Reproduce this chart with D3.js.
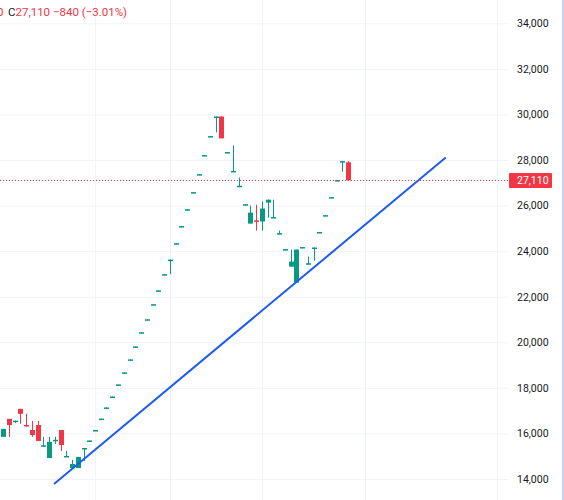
<!DOCTYPE html>
<html>
<head>
<meta charset="utf-8">
<script src="https://cdn.jsdelivr.net/npm/d3@7"></script>
<style>
  body { margin: 0; background: #fff; }
  svg { display: block; font-family: Roboto, "Noto Sans", sans-serif; }
</style>
</head>
<body>
<div class="chart"></div>
<script>
/* global d3 */
// daily candles, oldest first
const opens  = [15850,16640,16530,17080,16370,16150,16370,15440,14920,15700,16150,14980,14480,14480,15320,15650,
  16110,16610,17100,17580,18110,18640,19210,19780,20400,20970,21630,22240,22950,23560,
  24310,25060,25800,26550,27340,28180,29010,29870,29910,28310,27480,26830,26020,25210,25350,25300,26130,25460,24760,
  24050,23320,22620,24140,23440,24110,24800,25540,26330,27080,27890,27900];
const highs  = [16200,16640,16560,17080,16860,16550,16550,15850,15850,15850,16150,15230,14840,14970,15360,15690,
  16150,16650,17140,17620,18150,18680,19250,19820,20440,21010,21670,22280,22990,23630,
  24350,25100,25840,26590,27380,28220,29050,29910,29910,28350,28640,27230,26060,26000,26040,26180,26260,26260,24900,
  24090,24070,24070,24180,23760,24160,24840,25580,26370,27120,27950,27950];
const lows   = [15850,15850,16460,16420,16300,15850,15670,15420,14920,15540,15230,14970,14480,14480,14790,15650,
  16110,16610,17100,17580,18110,18640,19210,19780,20400,20970,21630,22240,22950,22990,
  24310,25060,25800,26550,27340,28180,29010,29210,28950,28310,27480,26830,26020,25210,24900,24900,25470,25440,24760,
  24050,23320,22620,24140,23420,23580,24800,25540,26330,27080,27490,27110];
const closes = [16200,16370,16560,16860,16310,15930,15670,15480,15630,15720,15490,15010,14660,14970,15360,15690,
  16150,16650,17140,17620,18150,18680,19250,19820,20440,21010,21670,22280,22990,23630,
  24350,25100,25840,26590,27380,28220,29050,29910,28950,28350,27520,26870,26060,25690,25320,25870,26260,25500,24790,
  24090,23540,24070,24180,23470,24160,24840,25580,26370,27120,27950,27110];

const yTicks = [14000,16000,18000,20000,22000,24000,26000,28000,30000,32000,34000];
const gridBars = [16, 29, 45, 63];          // bar index of the vertical grid lines
const trendX = [8.87, 77];                   // trend line ends (bar index)
const trendY = [13780, 28110];               // trend line ends (price)
const lastPrice = 27110;
const legendText = ["27,110", "\u2212840", "(\u22123.01%)"];

const up = "#089981", down = "#F23645";
const width = 564, height = 500;
const plotRight = 497;

const svg = d3.select(".chart").append("svg")
    .attr("width", width)
    .attr("height", height);

const x = d3.scaleLinear().domain([0, 60]).range([3, 348]);
const y = d3.scaleLinear().domain([14000, 34000]).range([479, 23.3]);

// vertical grid
svg.append("g").selectAll("line")
    .data(gridBars)
    .enter().append("line")
    .attr("x1", d => Math.round(x(d)) + 0.5).attr("x2", d => Math.round(x(d)) + 0.5)
    .attr("y1", 0).attr("y2", height)
    .attr("stroke", "#f0f3fa");

// horizontal grid via axis
const grid = svg.append("g")
    .attr("transform", "translate(508,0)")
    .call(d3.axisLeft(y).tickValues(yTicks).tickSize(508).tickFormat(""));
grid.select(".domain").remove();
grid.selectAll("line").attr("stroke", "#f0f3fa");

// price axis separator + right frame
svg.append("line").attr("x1", plotRight + 0.5).attr("x2", plotRight + 0.5)
    .attr("y1", 0).attr("y2", height).attr("stroke", "#f0f3fa");
svg.append("line").attr("x1", 563).attr("x2", 563)
    .attr("y1", 0).attr("y2", height).attr("stroke", "#c3cdfb").attr("stroke-width", 2);

// price labels
const axis = svg.append("g")
    .attr("transform", "translate(514,0)")
    .call(d3.axisRight(y).tickValues(yTicks).tickSize(0).tickPadding(3).tickFormat(d3.format(",")));
axis.select(".domain").remove();
axis.selectAll("text")
    .attr("fill", "#131722")
    .style("font-size", "10.5px")
    .style("font-family", "Roboto, sans-serif");

// candles
const idx = d3.range(opens.length);
const candles = svg.append("g").selectAll("g")
    .data(idx)
    .enter().append("g");

candles.append("line")
    .attr("x1", i => Math.round(x(i)) + 0.5).attr("x2", i => Math.round(x(i)) + 0.5)
    .attr("y1", i => y(highs[i])).attr("y2", i => y(lows[i]))
    .attr("stroke", i => closes[i] >= opens[i] ? up : down)
    .attr("stroke-width", 1);

candles.append("rect")
    .attr("x", i => Math.round(x(i)) - 2)
    .attr("width", 5)
    .attr("y", i => y(Math.max(opens[i], closes[i])))
    .attr("height", i => Math.max(1.5, Math.abs(y(opens[i]) - y(closes[i]))))
    .attr("fill", i => closes[i] >= opens[i] ? up : down);

// trend line
svg.append("line")
    .attr("x1", x(trendX[0])).attr("y1", y(trendY[0]))
    .attr("x2", x(trendX[1])).attr("y2", y(trendY[1]))
    .attr("stroke", "#1f5bf0")
    .attr("stroke-width", 2);

// last price line and label
const yl = Math.round(y(lastPrice)) + 0.5;
svg.append("line")
    .attr("x1", 0).attr("x2", 509)
    .attr("y1", yl).attr("y2", yl)
    .attr("stroke", down)
    .attr("stroke-dasharray", "1,2");
svg.append("rect")
    .attr("x", 509).attr("y", yl - 7.5)
    .attr("width", 43).attr("height", 15)
    .attr("rx", 1)
    .attr("fill", down);
svg.append("text")
    .attr("x", 517).attr("y", yl)
    .attr("dy", "0.35em")
    .attr("fill", "#fff")
    .style("font-size", "10.5px")
    .text(d3.format(",")(lastPrice));

// legend at top left (first value is cut by the left edge, as in the source)
svg.append("text")
    .attr("x", 3.5).attr("y", 16)
    .attr("text-anchor", "end")
    .attr("fill", down)
    .style("font-size", "11.5px")
    .text("0");
const legend = svg.append("text")
    .attr("x", 8).attr("y", 16)
    .style("font-size", "11.5px");
legend.append("tspan").attr("fill", "#131722").text("C");
legend.append("tspan").attr("fill", down).text(legendText.join(" "));
</script>
</body>
</html>
